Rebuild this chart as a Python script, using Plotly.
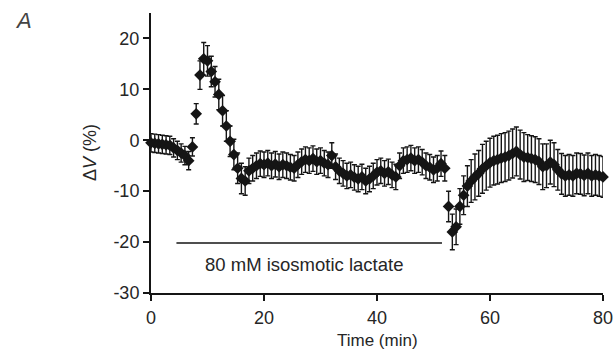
import plotly.graph_objects as go

# Sampling interval (min) and measured values
step_min = 2 / 3
dv_pct = [
    -0.5, -0.6, -0.7, -0.8, -0.9, -1.0, -1.5, -2.0, -2.5, -3.0,
    -4.0, -1.3, 5.2, 12.8, 16.0, 15.6, 13.5, 11.5, 9.0, 5.8,
    2.8, -0.2, -2.8, -5.5, -7.5, -8.0, -6.0, -5.5, -5.0, -4.6,
    -4.8, -4.5, -5.0, -4.7, -5.2, -4.8, -5.0, -5.3, -5.5, -4.8,
    -4.2, -3.8, -4.0, -3.6, -4.2, -4.0, -4.5, -4.8, -3.0, -5.2,
    -6.0, -6.5, -7.0, -6.8, -7.3, -7.6, -7.2, -8.0, -7.6, -7.0,
    -6.3, -6.0, -6.5, -6.2, -6.8, -7.2, -5.0, -4.0, -3.8, -3.5,
    -4.0, -3.8, -4.3, -5.0, -5.3, -5.8, -5.5, -4.6, -5.5, -13.0,
    -18.0, -17.0, -13.0, -10.8, -9.0, -8.0, -7.2, -6.5, -5.6, -5.0,
    -4.4, -4.0, -3.8, -3.5, -3.3, -3.0, -2.6, -2.2, -2.8, -3.3,
    -3.4, -3.6, -3.8, -4.2, -5.2, -5.0, -4.3, -4.8, -5.8, -6.6,
    -7.0, -6.8, -7.0, -6.5, -6.6, -6.9, -6.5, -7.0, -6.8, -7.0,
    -7.2,
]
sem_pct = [
    1.8, 1.8, 1.8, 1.8, 1.8, 1.8, 1.8, 1.8, 1.8, 1.8,
    1.8, 1.8, 2.0, 2.8, 3.2, 3.0, 3.0, 3.0, 3.0, 3.0,
    3.0, 3.0, 3.0, 3.0, 3.0, 2.8, 2.5, 2.5, 2.5, 2.5,
    2.5, 2.5, 2.5, 2.5, 2.5, 2.5, 2.5, 2.5, 2.5, 2.5,
    2.5, 2.5, 2.5, 2.5, 2.5, 2.5, 2.5, 2.5, 2.5, 2.5,
    2.5, 2.5, 2.5, 2.5, 2.5, 2.5, 2.5, 2.5, 2.5, 2.5,
    2.5, 2.5, 2.5, 2.5, 2.5, 2.5, 2.5, 2.5, 2.5, 2.5,
    2.5, 2.5, 2.5, 2.5, 2.5, 2.5, 2.5, 2.5, 2.5, 3.0,
    3.5, 3.5, 3.5, 3.8, 4.0, 4.2, 4.5, 4.5, 4.8, 4.8,
    4.8, 4.8, 4.8, 4.8, 4.8, 4.8, 4.8, 4.8, 4.8, 4.8,
    4.5, 4.5, 4.5, 4.5, 4.5, 4.3, 4.3, 4.3, 4.0, 4.0,
    4.0, 4.0, 4.0, 4.0, 4.0, 4.0, 4.0, 4.0, 4.0, 4.0,
    4.0,
]
time_min = [round(i * step_min, 3) for i in range(len(dv_pct))]

x_ticks = [0, 20, 40, 60, 80]
x_tick_labels = ["0", "20", "40", "60", "80"]
y_ticks = [-30, -20, -10, 0, 10, 20]
y_tick_labels = ["-30", "-20", "-10", "0", "10", "20"]
bar_start, bar_end, bar_level = 4.5, 51.5, -20.2
bar_label = "80 mM isosmotic lactate"
x_title = "Time (min)"
y_title = "Δ<i>V</i> (%)"
panel_label = "<i>A</i>"

font_family = "Liberation Sans, Arial, sans-serif"
ink = "#151515"
text_col = "#262626"

fig = go.Figure()
fig.add_trace(go.Scatter(
    x=time_min, y=dv_pct,
    mode="markers",
    marker=dict(symbol="diamond", size=9, color=ink),
    error_y=dict(type="data", array=sem_pct, visible=True,
                 color=ink, thickness=1.4, width=2.5),
    cliponaxis=False,
    showlegend=False,
))

fig.add_shape(type="line", x0=bar_start, x1=bar_end, y0=bar_level, y1=bar_level,
              xref="x", yref="y", line=dict(color=ink, width=1.5))
fig.add_annotation(x=27.0, y=-24.4, xref="x", yref="y",
                   text=bar_label, showarrow=False,
                   font=dict(family=font_family, size=18.5, color=text_col))
# axis titles
fig.add_annotation(x=377, y=352 - 340, xref="paper", yref="paper", text=x_title,
                   showarrow=False, font=dict(family=font_family, size=17, color=text_col))
fig.add_annotation(x=90, y=352 - 153, xref="paper", yref="paper", text=y_title,
                   textangle=-90, showarrow=False,
                   font=dict(family=font_family, size=18, color=text_col))
fig.add_annotation(x=23, y=352 - 20, xref="paper", yref="paper", text=panel_label,
                   showarrow=False, font=dict(family=font_family, size=22, color="#444"))

W, H = 616, 352
ml, mr, mt, mb = 151, 13, 13, 59
pw, ph = W - ml - mr, H - mt - mb
# convert pixel-placed annotations to paper coords
for ann in fig.layout.annotations[1:]:
    ann.x = (ann.x - ml) / pw
    ann.y = (ann.y - mb) / ph
    ann.xanchor = "center"
    ann.yanchor = "middle"

fig.update_layout(
    width=W, height=H,
    margin=dict(l=ml, r=mr, t=mt, b=mb),
    paper_bgcolor="white", plot_bgcolor="white",
    font=dict(family=font_family, size=18, color=text_col),
)

fig.update_xaxes(
    range=[0, 80], tickvals=x_ticks, ticktext=x_tick_labels,
    showgrid=False, zeroline=False, automargin=False,
    showline=True, linecolor=ink, linewidth=2,
    ticks="outside", ticklen=6, tickwidth=2, tickcolor=ink,
    ticklabelstandoff=1,
    tickfont=dict(size=18, color=text_col),
)
fig.update_yaxes(
    range=[-30, 25], tickvals=y_ticks, ticktext=y_tick_labels,
    showgrid=False, zeroline=False, automargin=False,
    showline=True, linecolor=ink, linewidth=2,
    ticks="outside", ticklen=6, tickwidth=2, tickcolor=ink,
    tickfont=dict(size=18, color=text_col),
)

fig.write_html("out.html")
